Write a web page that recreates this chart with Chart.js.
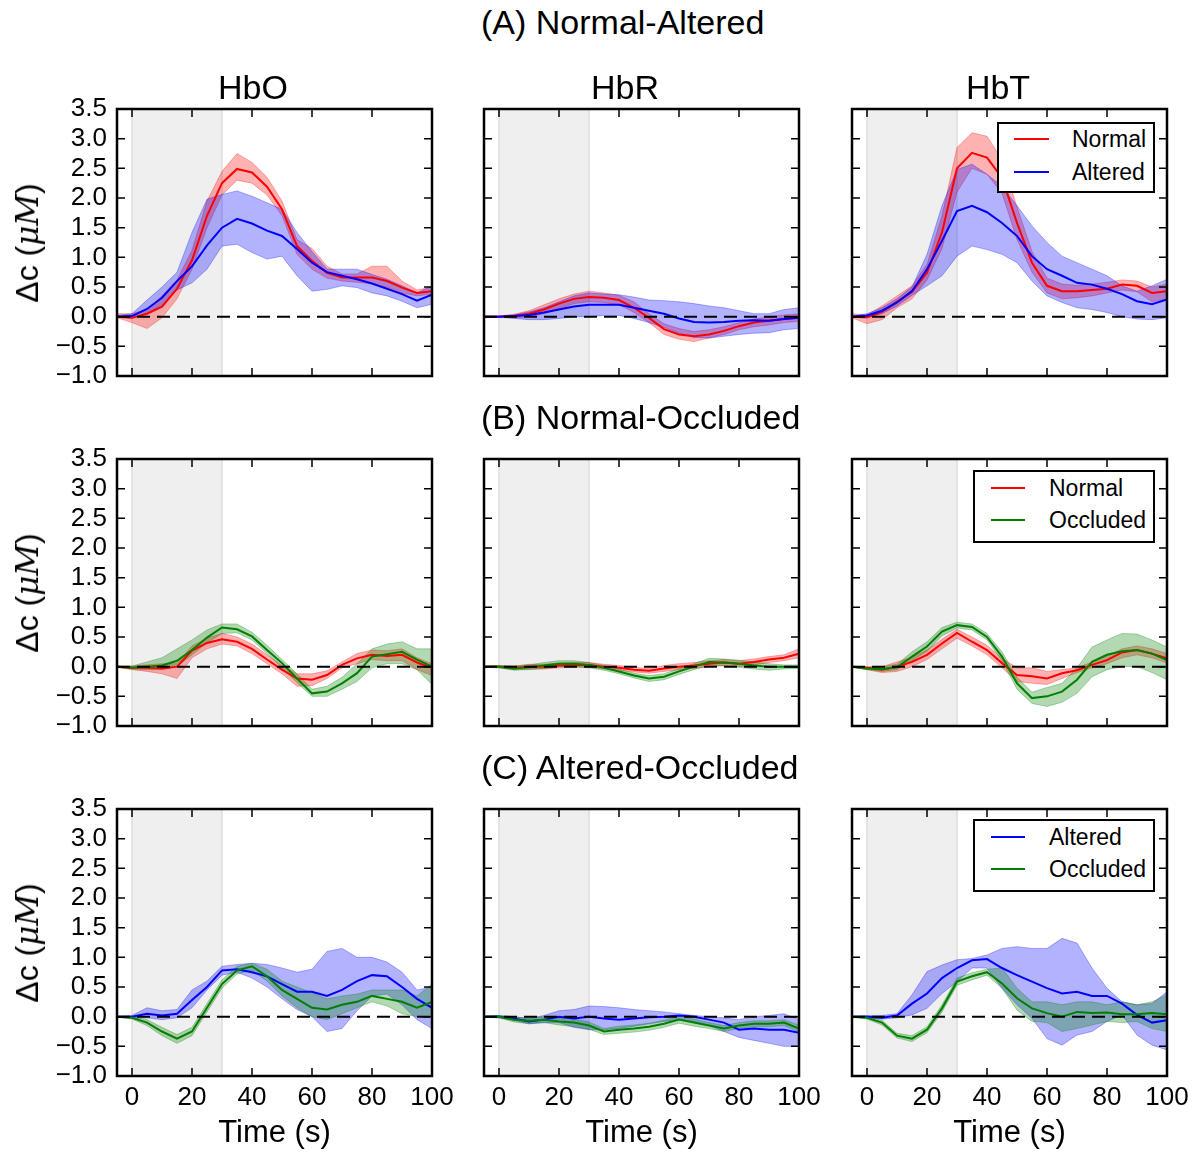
<!DOCTYPE html>
<html lang="en">
<head>
<meta charset="utf-8">
<title>Normal / Altered / Occluded responses</title>
<script src="https://cdn.jsdelivr.net/npm/chart.js"></script>
<style>
  body { margin: 0; background: #fff; font-family: "Liberation Sans", Arial, sans-serif; }
  #fig { position: relative; width: 1196px; height: 1154px; overflow: hidden; }
  .panel { position: absolute; }
  .txt { position: absolute; white-space: nowrap; line-height: 1; color: #000; }
  .rowTitle { font-size: 34px; transform: translateY(-50%); }
  .colTitle { font-size: 34px; transform: translate(-50%, -50%); }
  .ylab { font-size: 32px; transform: translate(-50%, -50%) rotate(-90deg); }
  .ylab i { font-family: "DejaVu Serif", serif; font-size: 31px; }
  .legend { position: absolute; border: 2px solid #000; background: #fff; box-sizing: border-box; }
  .legLine { position: absolute; height: 2px; transform: translateY(-50%); }
  .legText { position: absolute; font-size: 23px; line-height: 1; transform: translateY(-50%); white-space: nowrap; }
</style>
</head>
<body>
<div id="fig"></div>

<script>
// time axis (s) and tick values
const time = [-5, 0, 5, 10, 15, 20, 25, 30, 35, 40, 45, 50, 55, 60, 65, 70, 75, 80, 85, 90, 95, 100];
const xTicks = [0, 20, 40, 60, 80, 100];
const yTicks = [-1.0, -0.5, 0.0, 0.5, 1.0, 1.5, 2.0, 2.5, 3.0, 3.5];
const stimStart = 0;
const stimEnd = 30;
const baseline = 0;

const colNames = ['HbO', 'HbR', 'HbT'];
const rowTitles = ['(A) Normal-Altered', '(B) Normal-Occluded', '(C) Altered-Occluded'];

// (A) Normal vs Altered
const aHboNormal    = [0.0, -0.02, 0.05, 0.17, 0.47, 0.95, 1.7, 2.25, 2.49, 2.43, 2.19, 1.81, 1.19, 0.94, 0.74, 0.66, 0.66, 0.66, 0.6, 0.49, 0.4, 0.43];
const aHboNormalLo  = [-0.02, -0.1, -0.2, -0.02, 0.3, 0.8, 1.5, 2.05, 2.3, 2.25, 2.05, 1.7, 1.05, 0.8, 0.65, 0.6, 0.58, 0.55, 0.5, 0.4, 0.35, 0.38];
const aHboNormalHi  = [0.05, 0.05, 0.12, 0.35, 0.62, 1.12, 1.95, 2.45, 2.75, 2.6, 2.35, 1.95, 1.3, 1.15, 0.85, 0.72, 0.72, 0.85, 0.85, 0.6, 0.45, 0.5];
const aHboAltered   = [0.0, 0.01, 0.13, 0.32, 0.6, 0.85, 1.2, 1.5, 1.65, 1.57, 1.45, 1.36, 1.14, 0.91, 0.75, 0.69, 0.63, 0.56, 0.47, 0.38, 0.27, 0.37];
const aHboAlteredLo = [-0.01, -0.02, 0.05, 0.2, 0.45, 0.57, 0.8, 1.19, 1.22, 1.08, 0.97, 1.02, 0.69, 0.43, 0.46, 0.52, 0.49, 0.4, 0.35, 0.26, 0.15, 0.21];
const aHboAlteredHi = [0.02, 0.05, 0.28, 0.5, 0.75, 1.42, 1.98, 2.06, 2.12, 2.03, 1.92, 1.81, 1.42, 1.1, 0.8, 0.8, 0.8, 0.71, 0.63, 0.52, 0.4, 0.52];

const aHbrNormal    = [0, 0, 0.01, 0.05, 0.12, 0.22, 0.3, 0.33, 0.32, 0.28, 0.15, -0.02, -0.21, -0.3, -0.33, -0.3, -0.24, -0.16, -0.1, -0.07, -0.04, -0.02];
const aHbrNormalLo  = [-0.01, -0.01, -0.02, 0.0, 0.05, 0.13, 0.22, 0.25, 0.24, 0.2, 0.07, -0.1, -0.3, -0.38, -0.42, -0.36, -0.3, -0.22, -0.17, -0.14, -0.1, -0.08];
const aHbrNormalHi  = [0.01, 0.01, 0.04, 0.1, 0.2, 0.3, 0.38, 0.43, 0.4, 0.36, 0.25, 0.05, -0.12, -0.2, -0.25, -0.22, -0.17, -0.1, -0.04, 0.0, 0.03, 0.05];
const aHbrAltered   = [0, 0, 0.01, 0.03, 0.07, 0.12, 0.17, 0.2, 0.2, 0.2, 0.15, 0.1, 0.05, -0.03, -0.09, -0.1, -0.09, -0.07, -0.06, -0.07, -0.04, -0.02];
const aHbrAlteredLo = [-0.01, -0.01, -0.03, -0.05, -0.05, -0.03, 0.0, 0.0, 0.02, 0.02, -0.03, -0.1, -0.18, -0.28, -0.35, -0.36, -0.33, -0.3, -0.28, -0.27, -0.22, -0.2];
const aHbrAlteredHi = [0.01, 0.01, 0.03, 0.08, 0.15, 0.25, 0.35, 0.4, 0.38, 0.37, 0.33, 0.28, 0.27, 0.25, 0.22, 0.18, 0.15, 0.1, 0.05, 0.05, 0.12, 0.15];

const aHbtNormal    = [0, -0.01, 0.08, 0.25, 0.42, 0.74, 1.42, 2.5, 2.76, 2.68, 2.34, 1.58, 0.91, 0.52, 0.43, 0.43, 0.45, 0.47, 0.54, 0.52, 0.4, 0.43];
const aHbtNormalLo  = [-0.02, -0.12, -0.05, 0.15, 0.3, 0.62, 1.15, 2.1, 2.5, 2.4, 2.08, 1.3, 0.75, 0.4, 0.3, 0.32, 0.35, 0.4, 0.45, 0.42, 0.25, 0.3];
const aHbtNormalHi  = [0.05, 0.03, 0.18, 0.35, 0.52, 0.88, 1.7, 2.85, 3.1, 3.04, 2.65, 1.85, 1.1, 0.65, 0.55, 0.53, 0.55, 0.58, 0.62, 0.6, 0.5, 0.55];
const aHbtAltered   = [0, 0.02, 0.1, 0.24, 0.43, 0.8, 1.28, 1.78, 1.87, 1.76, 1.58, 1.36, 1.02, 0.8, 0.69, 0.57, 0.54, 0.47, 0.38, 0.26, 0.21, 0.29];
const aHbtAlteredLo = [-0.01, -0.02, 0.05, 0.18, 0.36, 0.52, 0.69, 1.02, 1.19, 1.13, 1.05, 0.91, 0.6, 0.35, 0.24, 0.15, 0.12, 0.07, 0.0, -0.04, -0.05, -0.02];
const aHbtAlteredHi = [0.01, 0.05, 0.15, 0.3, 0.5, 1.05, 1.87, 2.48, 2.57, 2.4, 2.2, 1.87, 1.53, 1.25, 1.02, 0.91, 0.8, 0.69, 0.52, 0.43, 0.52, 0.63];

// (B) Normal vs Occluded
const bHboNormal     = [0, -0.02, -0.02, -0.03, 0.0, 0.27, 0.4, 0.46, 0.42, 0.3, 0.12, -0.05, -0.2, -0.22, -0.14, 0.03, 0.14, 0.2, 0.18, 0.2, 0.07, -0.02];
const bHboNormalLo   = [-0.01, -0.05, -0.08, -0.12, -0.2, 0.15, 0.3, 0.38, 0.35, 0.22, 0.05, -0.12, -0.33, -0.32, -0.2, -0.02, 0.05, 0.12, 0.1, 0.1, -0.05, -0.15];
const bHboNormalHi   = [0.01, 0.01, 0.03, 0.05, 0.05, 0.35, 0.48, 0.56, 0.5, 0.38, 0.2, 0.02, -0.12, -0.12, -0.07, 0.08, 0.22, 0.28, 0.27, 0.3, 0.15, 0.05];
const bHboOccluded   = [0, -0.02, 0.0, 0.02, 0.1, 0.28, 0.49, 0.66, 0.63, 0.51, 0.28, 0.06, -0.2, -0.45, -0.42, -0.28, -0.11, 0.17, 0.21, 0.25, 0.12, 0.0];
const bHboOccludedLo = [-0.01, -0.04, -0.05, -0.05, 0.0, 0.2, 0.4, 0.56, 0.57, 0.45, 0.22, -0.02, -0.27, -0.5, -0.5, -0.38, -0.25, -0.02, 0.05, 0.05, -0.05, -0.3];
const bHboOccludedHi = [0.01, 0.01, 0.08, 0.15, 0.3, 0.45, 0.62, 0.72, 0.72, 0.58, 0.36, 0.12, -0.12, -0.38, -0.33, -0.18, 0.05, 0.3, 0.38, 0.42, 0.3, 0.3];

const bHbrNormal     = [0, 0, -0.02, 0.0, 0.0, 0.02, 0.03, 0.03, 0.0, -0.02, -0.05, -0.07, -0.03, 0.0, 0.02, 0.05, 0.07, 0.05, 0.08, 0.12, 0.15, 0.22];
const bHbrNormalLo   = [-0.01, -0.02, -0.05, -0.04, -0.04, -0.02, -0.01, -0.01, -0.04, -0.06, -0.09, -0.11, -0.08, -0.05, -0.03, 0.0, 0.02, 0.0, 0.03, 0.07, 0.1, 0.15];
const bHbrNormalHi   = [0.01, 0.02, 0.01, 0.04, 0.04, 0.06, 0.07, 0.07, 0.04, 0.02, -0.01, -0.03, 0.02, 0.05, 0.07, 0.1, 0.12, 0.1, 0.13, 0.17, 0.2, 0.3];
const bHbrOccluded   = [0, 0, -0.03, -0.01, 0.02, 0.05, 0.05, 0.03, -0.02, -0.08, -0.15, -0.2, -0.17, -0.08, 0.0, 0.08, 0.07, 0.05, 0.02, 0.0, 0.0, 0.0];
const bHbrOccludedLo = [-0.01, -0.02, -0.06, -0.05, -0.03, 0.0, 0.0, -0.02, -0.06, -0.12, -0.19, -0.25, -0.22, -0.13, -0.05, 0.02, 0.01, -0.01, -0.04, -0.06, -0.04, -0.03];
const bHbrOccludedHi = [0.01, 0.02, 0.01, 0.03, 0.07, 0.1, 0.1, 0.07, 0.02, -0.04, -0.11, -0.15, -0.12, -0.03, 0.05, 0.14, 0.13, 0.11, 0.08, 0.05, 0.03, 0.03];

const bHbtNormal     = [0, -0.02, -0.05, 0.0, 0.08, 0.2, 0.39, 0.57, 0.42, 0.28, 0.06, -0.14, -0.16, -0.2, -0.11, -0.06, 0.03, 0.11, 0.24, 0.28, 0.22, 0.14];
const bHbtNormalLo   = [-0.01, -0.05, -0.1, -0.08, 0.0, 0.12, 0.3, 0.48, 0.35, 0.2, -0.02, -0.25, -0.28, -0.3, -0.2, -0.1, -0.02, 0.05, 0.15, 0.2, 0.15, 0.06];
const bHbtNormalHi   = [0.01, 0.0, 0.0, 0.08, 0.16, 0.28, 0.46, 0.63, 0.5, 0.36, 0.14, -0.02, -0.02, -0.08, -0.05, -0.02, 0.08, 0.18, 0.3, 0.35, 0.3, 0.22];
const bHbtOccluded   = [0, -0.03, -0.04, -0.01, 0.17, 0.34, 0.59, 0.7, 0.67, 0.5, 0.17, -0.28, -0.53, -0.5, -0.42, -0.22, 0.08, 0.2, 0.26, 0.28, 0.22, 0.11];
const bHbtOccludedLo = [-0.01, -0.05, -0.08, -0.05, 0.1, 0.26, 0.52, 0.65, 0.62, 0.45, 0.1, -0.38, -0.62, -0.67, -0.6, -0.45, -0.17, -0.05, 0.0, 0.0, -0.1, -0.22];
const bHbtOccludedHi = [0.01, -0.01, 0.0, 0.04, 0.25, 0.42, 0.66, 0.75, 0.72, 0.56, 0.25, -0.18, -0.43, -0.35, -0.28, -0.02, 0.33, 0.45, 0.56, 0.55, 0.45, 0.33];

// (C) Altered vs Occluded
const cHboAltered    = [0, 0.0, 0.05, 0.02, 0.05, 0.28, 0.5, 0.78, 0.8, 0.75, 0.68, 0.55, 0.42, 0.42, 0.35, 0.45, 0.6, 0.7, 0.68, 0.5, 0.3, 0.15];
const cHboAlteredLo  = [-0.01, -0.02, -0.02, -0.05, -0.02, 0.15, 0.45, 0.7, 0.75, 0.65, 0.5, 0.3, 0.12, 0.0, -0.25, -0.2, 0.1, 0.35, 0.38, 0.2, -0.05, -0.2];
const cHboAlteredHi  = [0.01, 0.02, 0.15, 0.1, 0.12, 0.45, 0.6, 0.85, 0.88, 0.9, 0.88, 0.82, 0.75, 0.8, 1.1, 1.15, 1.0, 1.0, 0.92, 0.75, 0.45, 0.5];
const cHboOccluded   = [0, -0.02, -0.1, -0.25, -0.37, -0.25, 0.15, 0.55, 0.78, 0.85, 0.68, 0.45, 0.3, 0.15, 0.12, 0.2, 0.25, 0.35, 0.3, 0.25, 0.15, 0.25];
const cHboOccludedLo = [-0.01, -0.04, -0.15, -0.32, -0.45, -0.32, 0.08, 0.48, 0.72, 0.78, 0.6, 0.35, 0.15, 0.0, -0.05, 0.05, 0.15, 0.25, 0.18, 0.05, 0.0, 0.0];
const cHboOccludedHi = [0.01, 0.0, -0.05, -0.18, -0.3, -0.18, 0.22, 0.62, 0.85, 0.9, 0.8, 0.6, 0.5, 0.4, 0.3, 0.35, 0.38, 0.45, 0.45, 0.45, 0.35, 0.55];

const cHbrAltered    = [0, 0, -0.03, -0.08, -0.05, 0.0, -0.03, 0.0, -0.03, -0.05, -0.03, -0.01, 0.0, 0.02, 0.0, -0.05, -0.1, -0.22, -0.2, -0.22, -0.22, -0.27];
const cHbrAlteredLo  = [-0.01, -0.02, -0.06, -0.12, -0.1, -0.1, -0.18, -0.22, -0.22, -0.2, -0.16, -0.12, -0.08, -0.05, -0.08, -0.15, -0.25, -0.35, -0.4, -0.45, -0.5, -0.5];
const cHbrAlteredHi  = [0.01, 0.02, 0.0, -0.03, 0.02, 0.1, 0.12, 0.18, 0.17, 0.15, 0.12, 0.1, 0.08, 0.05, 0.02, 0.0, -0.02, -0.05, 0.0, 0.02, 0.05, -0.05];
const cHbrOccluded   = [0, 0, -0.05, -0.07, -0.05, -0.08, -0.1, -0.15, -0.25, -0.22, -0.2, -0.17, -0.12, -0.05, -0.1, -0.15, -0.2, -0.15, -0.12, -0.12, -0.1, -0.2];
const cHbrOccludedLo = [-0.01, -0.02, -0.09, -0.12, -0.1, -0.14, -0.17, -0.21, -0.3, -0.28, -0.26, -0.23, -0.18, -0.11, -0.16, -0.2, -0.25, -0.2, -0.17, -0.17, -0.15, -0.26];
const cHbrOccludedHi = [0.01, 0.02, -0.01, -0.02, 0.0, -0.02, -0.04, -0.09, -0.2, -0.16, -0.14, -0.11, -0.06, 0.01, -0.04, -0.1, -0.15, -0.1, -0.07, -0.07, -0.05, -0.14];

const cHbtAltered    = [0, 0.0, -0.02, 0.02, 0.22, 0.39, 0.65, 0.82, 0.95, 0.97, 0.82, 0.7, 0.59, 0.48, 0.39, 0.42, 0.35, 0.35, 0.22, 0.03, -0.1, -0.06];
const cHbtAlteredLo  = [-0.01, -0.02, -0.04, -0.02, 0.03, 0.14, 0.39, 0.59, 0.82, 0.82, 0.48, 0.2, -0.03, -0.37, -0.48, -0.31, -0.25, -0.08, 0.03, -0.31, -0.48, -0.56];
const cHbtAlteredHi  = [0.01, 0.02, 0.02, 0.05, 0.37, 0.76, 0.87, 0.96, 0.98, 1.04, 1.15, 1.18, 1.15, 1.15, 1.32, 1.24, 0.82, 0.48, 0.25, 0.2, 0.22, 0.42];
const cHbtOccluded   = [0, -0.02, -0.1, -0.32, -0.37, -0.22, 0.14, 0.59, 0.68, 0.75, 0.56, 0.31, 0.14, 0.06, 0.0, 0.08, 0.06, 0.07, 0.04, 0.04, 0.06, 0.04];
const cHbtOccludedLo = [-0.01, -0.04, -0.14, -0.36, -0.42, -0.27, 0.08, 0.53, 0.62, 0.7, 0.48, 0.11, -0.08, -0.1, -0.25, -0.2, -0.14, -0.08, -0.1, -0.08, -0.2, -0.25];
const cHbtOccludedHi = [0.01, 0.0, -0.06, -0.28, -0.32, -0.17, 0.2, 0.65, 0.74, 0.8, 0.82, 0.48, 0.25, 0.25, 0.2, 0.25, 0.25, 0.2, 0.25, 0.2, 0.25, 0.37];

// which arrays go in which panel: [row][col] -> two series
const panels = [
  [
    [['Normal', aHboNormal, aHboNormalLo, aHboNormalHi], ['Altered', aHboAltered, aHboAlteredLo, aHboAlteredHi]],
    [['Normal', aHbrNormal, aHbrNormalLo, aHbrNormalHi], ['Altered', aHbrAltered, aHbrAlteredLo, aHbrAlteredHi]],
    [['Normal', aHbtNormal, aHbtNormalLo, aHbtNormalHi], ['Altered', aHbtAltered, aHbtAlteredLo, aHbtAlteredHi]]
  ],
  [
    [['Normal', bHboNormal, bHboNormalLo, bHboNormalHi], ['Occluded', bHboOccluded, bHboOccludedLo, bHboOccludedHi]],
    [['Normal', bHbrNormal, bHbrNormalLo, bHbrNormalHi], ['Occluded', bHbrOccluded, bHbrOccludedLo, bHbrOccludedHi]],
    [['Normal', bHbtNormal, bHbtNormalLo, bHbtNormalHi], ['Occluded', bHbtOccluded, bHbtOccludedLo, bHbtOccludedHi]]
  ],
  [
    [['Altered', cHboAltered, cHboAlteredLo, cHboAlteredHi], ['Occluded', cHboOccluded, cHboOccludedLo, cHboOccludedHi]],
    [['Altered', cHbrAltered, cHbrAlteredLo, cHbrAlteredHi], ['Occluded', cHbrOccluded, cHbrOccludedLo, cHbrOccludedHi]],
    [['Altered', cHbtAltered, cHbtAlteredLo, cHbtAlteredHi], ['Occluded', cHbtOccluded, cHbtOccludedLo, cHbtOccludedHi]]
  ]
];

const colors = {
  Normal:   { line: 'rgb(255,0,0)', band: 'rgba(255,0,0,0.3)', edge: 'rgba(255,0,0,0.3)' },
  Altered:  { line: 'rgb(0,0,255)', band: 'rgba(0,0,255,0.3)', edge: 'rgba(0,0,255,0.3)' },
  Occluded: { line: 'rgb(0,128,0)', band: 'rgba(0,128,0,0.3)', edge: 'rgba(0,128,0,0.3)' }
};

// layout of the figure (pixels)
const plotLeft = [117, 484, 852];
const plotTop = [109, 459, 809];
const plotW = 315, plotH = 267;
const padTop = 30, padRight = 34;
const colTitleX = [253, 625, 998];
const colTitleY = 87;
const rowTitleX = 481;
const rowTitleY = [22, 417, 767];
const legendBoxes = [
  { left: 997, top: 122, width: 158, height: 71, lineX: [1012, 1047], textX: 1072, rowsY: [139, 172] },
  { left: 973, top: 470, width: 182, height: 73, lineX: [989, 1023], textX: 1049, rowsY: [488, 520] },
  { left: 973, top: 819, width: 182, height: 73, lineX: [989, 1023], textX: 1049, rowsY: [837, 869] }
];

const FONT = '"Liberation Sans", Arial, sans-serif';
Chart.defaults.font.family = FONT;
Chart.defaults.color = '#000';

const fig = document.getElementById('fig');

// grey stimulus block, frame and inward ticks
const frameTicks = {
  id: 'frameTicks',
  beforeDatasetsDraw(chart) {
    const { ctx, chartArea: a, scales: { x } } = chart;
    const x0 = x.getPixelForValue(stimStart);
    const x1 = x.getPixelForValue(stimEnd);
    ctx.save();
    ctx.fillStyle = '#efefef';
    ctx.fillRect(x0, a.top, x1 - x0, a.bottom - a.top);
    ctx.strokeStyle = '#dddddd';
    ctx.lineWidth = 1.5;
    ctx.beginPath();
    ctx.moveTo(x0, a.top); ctx.lineTo(x0, a.bottom);
    ctx.moveTo(x1, a.top); ctx.lineTo(x1, a.bottom);
    ctx.stroke();
    ctx.restore();
  },
  afterDraw(chart) {
    const { ctx, chartArea: a, scales: { x, y } } = chart;
    ctx.save();
    ctx.strokeStyle = '#000';
    ctx.lineWidth = 1.5;
    ctx.beginPath();
    xTicks.forEach(v => {
      const px = x.getPixelForValue(v);
      ctx.moveTo(px, a.bottom); ctx.lineTo(px, a.bottom - 8);
      ctx.moveTo(px, a.top); ctx.lineTo(px, a.top + 8);
    });
    yTicks.forEach(v => {
      const py = y.getPixelForValue(v);
      ctx.moveTo(a.left, py); ctx.lineTo(a.left + 8, py);
      ctx.moveTo(a.right, py); ctx.lineTo(a.right - 8, py);
    });
    ctx.stroke();
    ctx.lineWidth = 2.5;
    ctx.strokeRect(a.left, a.top, a.right - a.left, a.bottom - a.top);
    ctx.restore();
  }
};

function pts(arr) {
  return time.map((t, i) => ({ x: t, y: arr[i] }));
}

function buildDatasets(series) {
  const sets = [];
  series.forEach(([name, mean, lo, hi], s) => {
    const c = colors[name];
    sets.push({ data: pts(lo), borderColor: c.edge, borderWidth: 1, pointRadius: 0, fill: false, order: 4 - s });
    sets.push({ data: pts(hi), borderColor: c.edge, borderWidth: 1, pointRadius: 0, fill: '-1', backgroundColor: c.band, order: 4 - s });
  });
  series.forEach(([name, mean], s) => {
    sets.push({ data: pts(mean), borderColor: colors[name].line, borderWidth: 2, pointRadius: 0, fill: false, order: 2 - s });
  });
  sets.push({
    data: [{ x: time[0], y: baseline }, { x: time[time.length - 1], y: baseline }],
    borderColor: '#000', borderWidth: 2, borderDash: [13, 7], pointRadius: 0, fill: false, order: 0
  });
  return sets;
}

function makePanel(r, c) {
  const L = c === 0 ? plotLeft[0] : 12;
  const B = r === 2 ? 76 : 30;
  const div = document.createElement('div');
  div.className = 'panel';
  div.style.left = (plotLeft[c] - L) + 'px';
  div.style.top = (plotTop[r] - padTop) + 'px';
  div.style.width = (L + plotW + padRight) + 'px';
  div.style.height = (padTop + plotH + B) + 'px';
  const canvas = document.createElement('canvas');
  div.appendChild(canvas);
  fig.appendChild(div);

  new Chart(canvas, {
    type: 'line',
    data: { datasets: buildDatasets(panels[r][c]) },
    options: {
      responsive: true,
      maintainAspectRatio: false,
      animation: false,
      devicePixelRatio: 1,
      layout: { padding: { top: padTop, right: padRight, left: 0, bottom: 0 } },
      plugins: { legend: { display: false }, tooltip: { enabled: false } },
      elements: { line: { tension: 0 } },
      scales: {
        x: {
          type: 'linear', min: -5, max: 100,
          afterBuildTicks: s => { s.ticks = xTicks.map(v => ({ value: v })); },
          afterFit: s => { s.height = B; },
          grid: { display: false, drawTicks: false },
          border: { display: false },
          ticks: { display: r === 2, font: { size: 26 }, padding: 6, maxRotation: 0, autoSkip: false, callback: v => String(v) },
          title: { display: r === 2, text: 'Time (s)', font: { size: 31 }, padding: { top: 0, bottom: 0 } }
        },
        y: {
          min: -1, max: 3.5,
          afterBuildTicks: s => { s.ticks = yTicks.map(v => ({ value: v })); },
          afterFit: s => { s.width = L; },
          grid: { display: false, drawTicks: false },
          border: { display: false },
          ticks: {
            display: c === 0, font: { size: 26 }, padding: 10, autoSkip: false,
            callback: v => (v < 0 ? '\u2212' : '') + Math.abs(v).toFixed(1)
          }
        }
      }
    },
    plugins: [frameTicks]
  });
}

function addText(cls, text, x, y) {
  const d = document.createElement('div');
  d.className = 'txt ' + cls;
  d.style.left = x + 'px';
  d.style.top = y + 'px';
  d.innerHTML = text;
  fig.appendChild(d);
}

for (let r = 0; r < 3; r++) {
  for (let c = 0; c < 3; c++) makePanel(r, c);
  addText('rowTitle', rowTitles[r], rowTitleX, rowTitleY[r]);
  addText('ylab', '\u0394c (<i>\u03bcM</i>)', 27, plotTop[r] + plotH / 2);

  const lb = legendBoxes[r];
  const box = document.createElement('div');
  box.className = 'legend';
  box.style.left = lb.left + 'px';
  box.style.top = lb.top + 'px';
  box.style.width = lb.width + 'px';
  box.style.height = lb.height + 'px';
  fig.appendChild(box);
  panels[r][2].forEach(([name], i) => {
    const ln = document.createElement('div');
    ln.className = 'legLine';
    ln.style.left = (lb.lineX[0] - lb.left) + 'px';
    ln.style.width = (lb.lineX[1] - lb.lineX[0]) + 'px';
    ln.style.top = (lb.rowsY[i] - lb.top - 2) + 'px';
    ln.style.background = colors[name].line;
    box.appendChild(ln);
    const tx = document.createElement('div');
    tx.className = 'legText';
    tx.style.left = (lb.textX - lb.left - 2) + 'px';
    tx.style.top = (lb.rowsY[i] - lb.top - 2) + 'px';
    tx.textContent = name;
    box.appendChild(tx);
  });
}
colNames.forEach((n, c) => addText('colTitle', n, colTitleX[c], colTitleY));
</script>
</body>
</html>
